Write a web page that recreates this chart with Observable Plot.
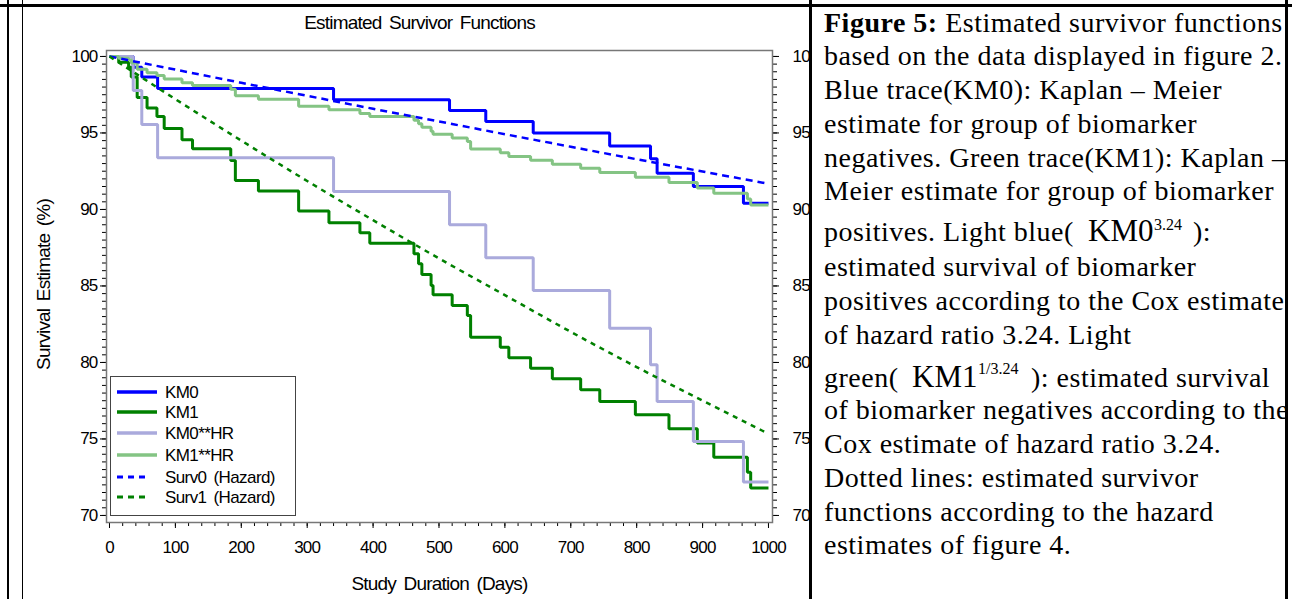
<!DOCTYPE html>
<html><head><meta charset="utf-8">
<script src="https://cdn.jsdelivr.net/npm/d3@7"></script>
<script src="https://cdn.jsdelivr.net/npm/@observablehq/plot@0.6"></script>
<style>
html,body{margin:0;padding:0;background:#fff;}
body{width:1292px;height:599px;position:relative;overflow:hidden;}
#chart{position:absolute;left:0;top:0;width:830px;height:599px;}
#chart svg{max-width:none !important;}
#chart svg text{letter-spacing:-0.8px;word-spacing:3px;}
.bar{position:absolute;background:#000;z-index:5;}
#legend{position:absolute;left:110px;top:376px;z-index:3;}
#legend text{font-family:'Liberation Sans',Arial,sans-serif;font-size:17px;letter-spacing:-0.6px;word-spacing:3px;}
#caption{position:absolute;left:812px;top:0;background:#fff;z-index:4;}
#caption text{font-family:'Liberation Serif','Times New Roman',serif;font-size:28px;letter-spacing:0.5px;fill:#000;}
</style></head><body>
<div id="chart"></div>
<svg id="legend" width="187" height="141"></svg>
<svg id="caption" width="473" height="599"></svg>
<div class="bar" style="left:0;top:4px;width:1292px;height:3px"></div>
<div class="bar" style="left:7px;top:0;width:2px;height:599px"></div>
<div class="bar" style="left:22px;top:0;width:1px;height:599px"></div>
<div class="bar" style="left:809px;top:0;width:3px;height:599px"></div>
<div class="bar" style="left:1285px;top:0;width:3px;height:599px"></div>
<script>
// ---- data ----
const km0T = [0, 36, 49, 73, 340, 516, 571, 643, 759, 821, 831, 886, 962, 1000];
const km0V = [100, 99.3, 98.65, 97.9, 97.17, 96.47, 95.75, 94.99, 94.14, 93.31, 92.37, 91.5, 90.4, 90.4];
const km0hrV = [100, 97.78, 95.56, 93.38, 91.18, 89.0, 86.84, 84.71, 82.24, 79.85, 77.45, 74.84, 72.18, 72.18];

const km1T = [0, 14, 29, 33, 42, 57, 72, 83, 110, 126, 184, 191, 226, 287, 333, 380, 395, 462, 469, 474, 488, 491, 520, 543, 548, 593, 606, 639, 672, 715, 744, 798, 849, 892, 917, 968, 973, 1000];
const km1V = [100, 99.63, 99.3, 98.65, 97.32, 96.63, 96.07, 95.3, 94.56, 93.97, 93.2, 91.9, 91.2, 89.9, 89.13, 88.48, 87.8, 87.1, 86.45, 85.75, 85.03, 84.42, 83.73, 83.07, 81.65, 81.0, 80.3, 79.63, 78.93, 78.21, 77.45, 76.58, 75.67, 74.73, 73.81, 72.83, 71.8, 71.8];
const km1hrV = [100, 99.88, 99.78, 99.58, 99.16, 98.93, 98.76, 98.52, 98.29, 98.1, 97.85, 97.43, 97.2, 96.75, 96.51, 96.28, 96.07, 95.83, 95.61, 95.37, 95.12, 94.92, 94.67, 94.44, 93.95, 93.71, 93.46, 93.22, 92.96, 92.7, 92.42, 92.1, 91.76, 91.41, 91.06, 90.69, 90.29, 90.29];

const survT = [0, 100, 200, 300, 400, 500, 600, 700, 800, 900, 1000];
const surv0V = [100, 99.14, 98.28, 97.43, 96.58, 95.75, 94.92, 94.1, 93.28, 92.48, 91.68];
const surv1V = [100, 97.21, 94.5, 91.86, 89.3, 86.8, 84.4, 82.0, 79.7, 77.5, 75.34];

const xTicks = [0, 100, 200, 300, 400, 500, 600, 700, 800, 900, 1000];
const yTicks = [70, 75, 80, 85, 90, 95, 100];
const xMinor = d3.range(0, 1001, 20);
const yMinor = d3.range(70, 100.01, 0.5);

const seriesNames = ["KM0", "KM1", "KM0**HR", "KM1**HR", "Surv0 (Hazard)", "Surv1 (Hazard)"];
const seriesColors = ["#0000ff", "#008000", "#aaaadc", "#84c484", "#0000ff", "#008000"];
const seriesDash = [null, null, null, null, "7,5", "5,5"];
const seriesWidth = [3, 3, 3, 3, 2.5, 2.5];

const titleText = "Estimated Survivor Functions";
const xLabel = "Study Duration (Days)";
const yLabel = "Survival Estimate (%)";

const zip = (T, V) => T.map((t, i) => ({t, v: V[i]}));
const series = [
  {data: zip(km0T, km0V), step: true},
  {data: zip(km1T, km1V), step: true},
  {data: zip(km0T, km0hrV), step: true},
  {data: zip(km1T, km1hrV), step: true},
  {data: zip(survT, surv0V), step: false},
  {data: zip(survT, surv1V), step: false}
];

const lineMarks = series.map((s, i) => Plot.line(s.data, {
  x: "t", y: "v",
  curve: s.step ? "step-after" : "monotone-x",
  stroke: seriesColors[i],
  strokeWidth: seriesWidth[i],
  strokeDasharray: seriesDash[i] || undefined,
  strokeLinejoin: "miter",
  strokeLinecap: "butt"
}));

const fmt = d => String(d);
const chart = Plot.plot({
  width: 830, height: 599,
  marginLeft: 106, marginRight: 58, marginTop: 50, marginBottom: 77,
  x: {domain: [-4.55, 1006.1]},
  y: {domain: [69.54, 100.39]},
  style: {fontFamily: "'Liberation Sans', Arial, sans-serif", fontSize: "17px", color: "#000", background: "transparent"},
  marks: [
    Plot.axisY({ticks: yMinor, tickSize: 4, tickFormat: () => "", label: null, anchor: "left"}),
    Plot.axisY({ticks: yTicks, tickSize: 6, tickPadding: 3, tickFormat: fmt, label: null, anchor: "left"}),
    Plot.axisY({ticks: yMinor, tickSize: 4, tickFormat: () => "", label: null, anchor: "right"}),
    Plot.axisY({ticks: yTicks, tickSize: 6, tickPadding: 14, tickFormat: fmt, label: null, anchor: "right"}),
    Plot.axisX({ticks: xMinor, tickSize: 4, tickFormat: () => "", label: null}),
    Plot.axisX({ticks: xTicks, tickSize: 6, tickPadding: 12, tickFormat: fmt, label: null}),
    ...lineMarks,
    Plot.frame({stroke: "#777", strokeWidth: 1.5}),
    Plot.text([titleText], {text: d => d, frameAnchor: "top", lineAnchor: "middle", textAnchor: "middle", dx: -20, dy: -28, fontSize: 19}),
    Plot.text([xLabel], {text: d => d, frameAnchor: "bottom", lineAnchor: "middle", textAnchor: "middle", dy: 61, fontSize: 19}),
    Plot.text([yLabel], {text: d => d, frameAnchor: "left", lineAnchor: "middle", textAnchor: "middle", dx: -63, dy: -2, rotate: -90, fontSize: 19})
  ]
});
document.getElementById("chart").appendChild(chart);

// ---- legend ----
const NS = "http://www.w3.org/2000/svg";
const leg = document.getElementById("legend");
function el(tag, attrs, parent) {
  const e = document.createElementNS(NS, tag);
  for (const k in attrs) e.setAttribute(k, attrs[k]);
  parent.appendChild(e);
  return e;
}
el("rect", {x: 0.5, y: 0.5, width: 185, height: 139, fill: "#fff", stroke: "#444", "stroke-width": 1}, leg);
const legY = [16, 36, 57, 79, 101, 121];
seriesNames.forEach((name, i) => {
  const ln = el("line", {x1: 7, x2: seriesDash[i] ? 40 : 47, y1: legY[i], y2: legY[i], stroke: seriesColors[i], "stroke-width": seriesWidth[i] + 0.5}, leg);
  if (seriesDash[i]) ln.setAttribute("stroke-dasharray", "6,5");
  const t = el("text", {x: 55, y: legY[i], "dominant-baseline": "central"}, leg);
  t.textContent = name;
});

// ---- caption ----
const cap = document.getElementById("caption");
const cx = 12;
const capLines = [
  [32, [["Figure 5:", {"font-weight": "bold"}], [" Estimated survivor functions", {}]]],
  [65, [["based on the data displayed in figure 2.", {}]]],
  [99, [["Blue trace(KM0): Kaplan \u2013 Meier", {}]]],
  [133, [["estimate for group of biomarker", {}]]],
  [167, [["negatives. Green trace(KM1): Kaplan \u2013", {}]]],
  [200, [["Meier estimate for group of biomarker", {}]]],
  [276, [["estimated survival of biomarker", {}]]],
  [310, [["positives according to the Cox estimate", {}]]],
  [344, [["of hazard ratio 3.24. Light", {}]]],
  [419, [["of biomarker negatives according to the", {}]]],
  [453, [["Cox estimate of hazard ratio 3.24.", {}]]],
  [487, [["Dotted lines: estimated survivor", {}]]],
  [521, [["functions according to the hazard", {}]]],
  [554, [["estimates of figure 4.", {}]]]
];
capLines.forEach(([y, parts]) => {
  const t = el("text", {x: cx, y}, cap);
  parts.forEach(([s, a]) => { const ts = el("tspan", a, t); ts.textContent = s; });
});
// line with KM0^3.24
{
  const t = el("text", {x: cx, y: 241}, cap);
  t.textContent = "positives. Light blue(";
  const k = el("text", {x: 276, y: 241, style: "font-size:31px;letter-spacing:0"}, cap); k.textContent = "KM0";
  const s = el("text", {x: 342, y: 230, style: "font-size:16px;letter-spacing:0"}, cap); s.textContent = "3.24";
  const r = el("text", {x: 381, y: 241}, cap); r.textContent = "):";
}
// line with KM1^(1/3.24)
{
  const t = el("text", {x: cx, y: 387}, cap);
  t.textContent = "green(";
  const k = el("text", {x: 100, y: 387, style: "font-size:31px;letter-spacing:0"}, cap); k.textContent = "KM1";
  const s = el("text", {x: 166, y: 374, style: "font-size:16px;letter-spacing:0"}, cap); s.textContent = "1/3.24";
  const r = el("text", {x: 219, y: 387}, cap); r.textContent = "): estimated survival";
}
</script>
</body></html>
